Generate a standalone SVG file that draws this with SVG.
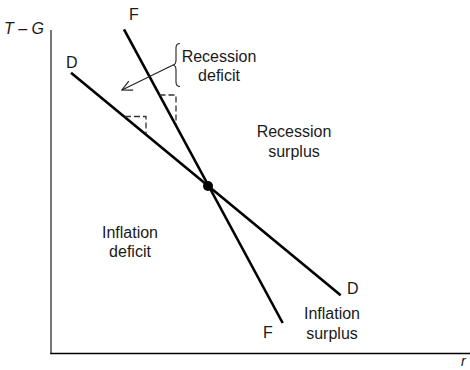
<svg xmlns="http://www.w3.org/2000/svg" width="470" height="370" viewBox="0 0 470 370">
<style>
text{font-family:"Liberation Sans",Arial,sans-serif;font-size:16px;fill:#1a1a1a}
.c{text-anchor:middle}
.it{font-style:italic}
.ln{stroke:#000;stroke-width:2.6;fill:none}
.ds{stroke:#333;stroke-width:1.3;fill:none;stroke-dasharray:6 3}
</style>
<defs>
<marker id="ah" markerWidth="12" markerHeight="12" refX="11" refY="6" orient="auto" markerUnits="userSpaceOnUse">
<path d="M1,1 L11,6 L1,11" fill="none" stroke="#222" stroke-width="1.2"/>
</marker>
</defs>
<g id="axes">
<line x1="51" y1="30" x2="51" y2="353.5" stroke="#555" stroke-width="1.6"/>
<line x1="50.2" y1="353.5" x2="470" y2="353.5" stroke="#000" stroke-width="1.6"/>
<text class="it" x="4" y="34">T – G</text>
<text class="it" x="461" y="366" style="font-size:14px">r</text>
</g>
<g id="connectors">
<line id="lineF" class="ln" x1="124" y1="29.3" x2="282.7" y2="323"/>
<line id="lineD" class="ln" x1="71" y1="72.7" x2="340.7" y2="295.3"/>
<path class="ds" d="M125,116.5 H146 V134"/>
<path class="ds" d="M159.5,95 H176 V124"/>
<line x1="173" y1="65" x2="122" y2="90" stroke="#222" stroke-width="1.2" marker-end="url(#ah)"/>
</g>
<g id="brace">
<path d="M180,43.5 Q176,43.5 176,48 V60 Q176,64.5 173,65 Q176,65.5 176,70 V82 Q176,86.5 180,86.5" fill="none" stroke="#222" stroke-width="1.1"/>
</g>
<g id="equilibrium"><circle cx="208" cy="186" r="5" fill="#000"/></g>
<g id="labelF1"><text x="129" y="20">F</text></g>
<g id="labelD1"><text x="66" y="68">D</text></g>
<g id="labelD2"><text x="347" y="294">D</text></g>
<g id="labelF2"><text x="263" y="338">F</text></g>
<g id="recessionDeficit"><text class="c" x="219" y="62">Recession</text><text class="c" x="219" y="81">deficit</text></g>
<g id="recessionSurplus"><text class="c" x="294" y="137">Recession</text><text class="c" x="294" y="157">surplus</text></g>
<g id="inflationDeficit"><text class="c" x="130" y="238">Inflation</text><text class="c" x="130" y="257">deficit</text></g>
<g id="inflationSurplus"><text class="c" x="332" y="319">Inflation</text><text class="c" x="332" y="339">surplus</text></g>
</svg>
